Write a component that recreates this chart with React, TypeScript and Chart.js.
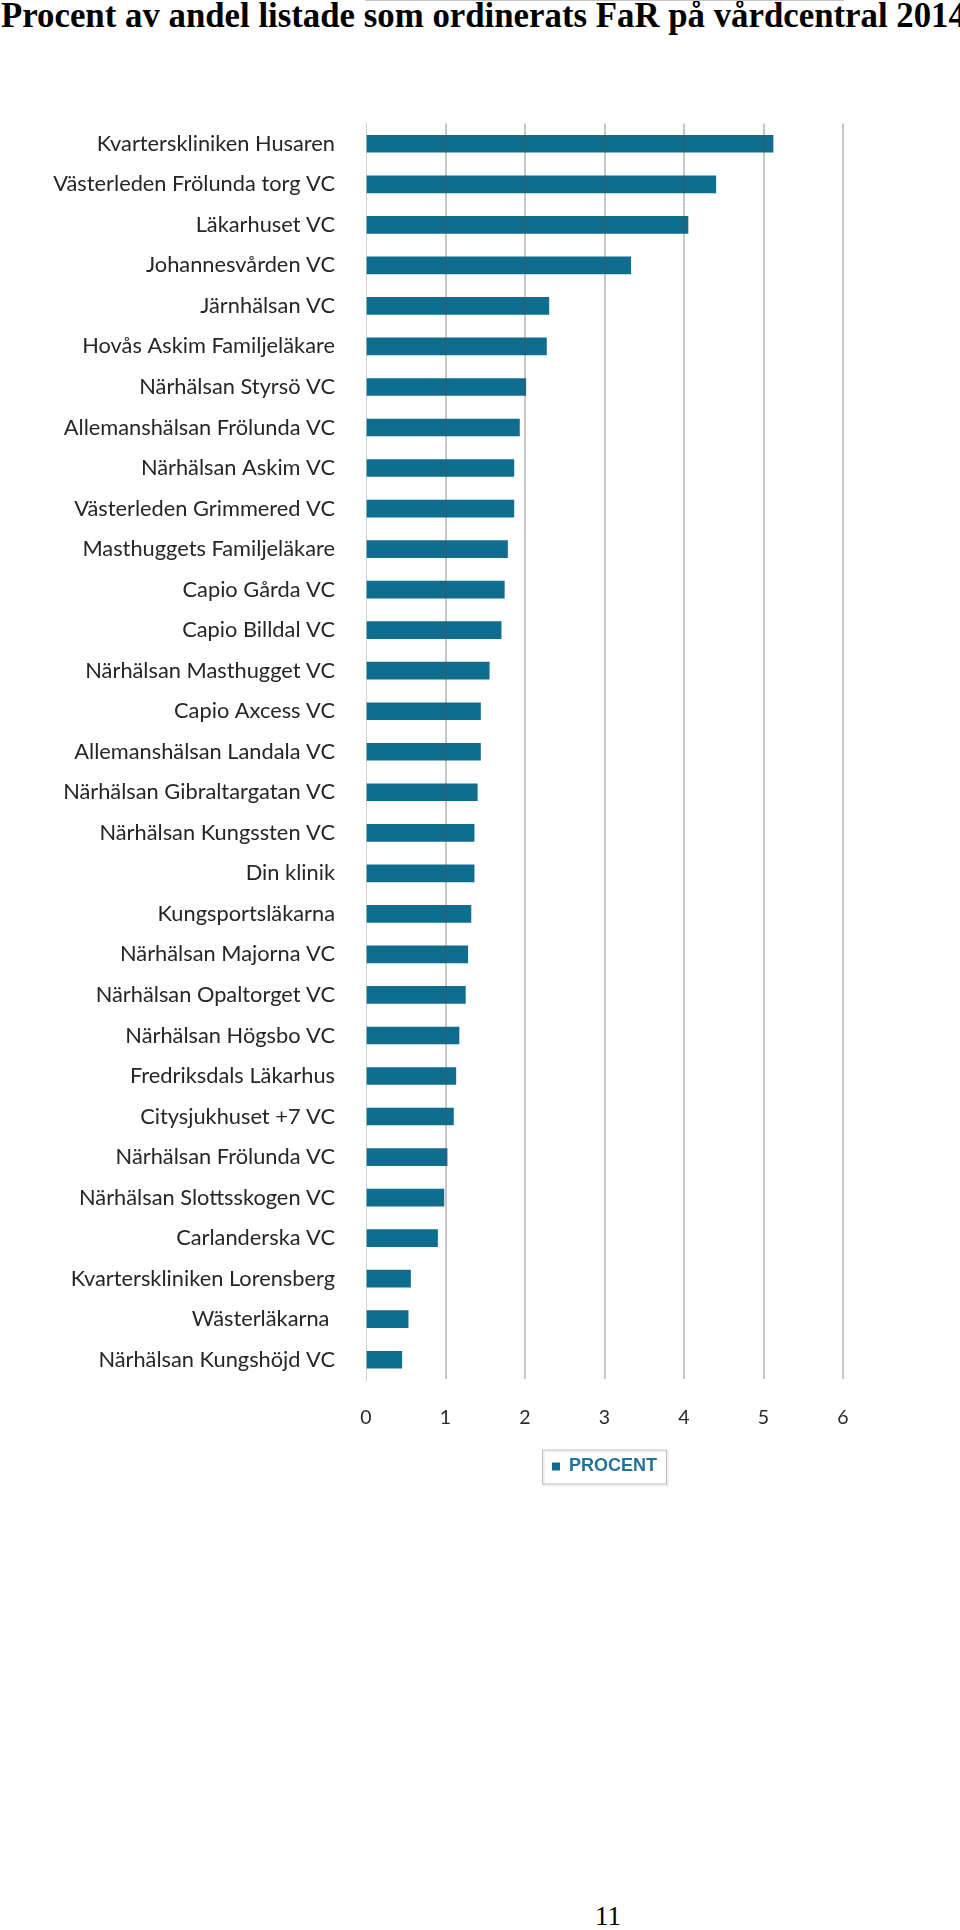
import React, { useEffect, useRef } from "react";
import { Chart, registerables } from "chart.js";

Chart.register(...registerables);

const TITLE = "Procent av andel listade som ordinerats FaR på vårdcentral 2014";
const PAGE_NUMBER = "11";
const SERIES_LABEL = "PROCENT";

const categories = [
  "Kvarterskliniken Husaren",
  "Västerleden Frölunda torg VC",
  "Läkarhuset VC",
  "Johannesvården VC",
  "Järnhälsan VC",
  "Hovås Askim Familjeläkare",
  "Närhälsan Styrsö VC",
  "Allemanshälsan Frölunda VC",
  "Närhälsan Askim VC",
  "Västerleden Grimmered VC",
  "Masthuggets Familjeläkare",
  "Capio Gårda VC",
  "Capio Billdal VC",
  "Närhälsan Masthugget VC",
  "Capio Axcess VC",
  "Allemanshälsan Landala VC",
  "Närhälsan Gibraltargatan VC",
  "Närhälsan Kungssten VC",
  "Din klinik",
  "Kungsportsläkarna",
  "Närhälsan Majorna VC",
  "Närhälsan Opaltorget VC",
  "Närhälsan Högsbo VC",
  "Fredriksdals Läkarhus",
  "Citysjukhuset +7 VC",
  "Närhälsan Frölunda VC",
  "Närhälsan Slottsskogen VC",
  "Carlanderska VC",
  "Kvarterskliniken Lorensberg",
  "Wästerläkarna ",
  "Närhälsan Kungshöjd VC",
];

const procent = [
  5.12, 4.4, 4.05, 3.33, 2.3, 2.27, 2.01, 1.93, 1.86, 1.86, 1.78, 1.74, 1.7,
  1.55, 1.44, 1.44, 1.4, 1.36, 1.36, 1.32, 1.28, 1.25, 1.17, 1.13, 1.1, 1.02,
  0.98, 0.9, 0.56, 0.53, 0.45,
];

const xMin = 0;
const xMax = 6;
const xStep = 1;

const BAR_COLOR = "#0f6e8f";
const LEGEND_TEXT_COLOR = "#1f739a";

const legendBorderPlugin = {
  id: "legendBorder",
  afterDraw(chart: any) {
    const legend = chart.legend;
    if (!legend || !legend.legendHitBoxes || !legend.legendHitBoxes.length) return;
    const hb = legend.legendHitBoxes[0];
    const ctx = chart.ctx;
    const cy = hb.top + hb.height / 2;
    const x0 = hb.left - 9.5;
    const x1 = hb.left + hb.width + 9.5;
    const y0 = cy - 16.5;
    const y1 = cy + 17.5;
    ctx.save();
    ctx.strokeStyle = "rgba(0,0,0,0.06)";
    ctx.lineWidth = 2;
    ctx.strokeRect(x0 + 1.5, y0 + 1.5, x1 - x0, y1 - y0);
    ctx.strokeStyle = "#bdbdbd";
    ctx.lineWidth = 1;
    ctx.strokeRect(x0, y0, x1 - x0, y1 - y0);
    ctx.restore();
  },
};

export default function App() {
  const canvasRef = useRef<HTMLCanvasElement | null>(null);

  useEffect(() => {
    if (!canvasRef.current) return;
    const chart = new Chart(canvasRef.current, {
      type: "bar",
      data: {
        labels: categories,
        datasets: [
          {
            label: SERIES_LABEL,
            data: procent,
            backgroundColor: BAR_COLOR,
            borderWidth: 0,
            barThickness: 17,
          },
        ],
      },
      options: {
        indexAxis: "y",
        responsive: false,
        animation: false,
        devicePixelRatio: 1,
        layout: {
          padding: { top: 123.5, left: 0, right: 117, bottom: 14.5 },
        },
        scales: {
          x: {
            type: "linear",
            min: xMin,
            max: xMax,
            ticks: {
              stepSize: xStep,
              padding: 26,
              color: "#2a2a2a",
              font: { family: "Lato", size: 19.5 },
            },
            grid: {
              display: true,
              drawTicks: false,
              z: 1,
              lineWidth: 2,
              color: (ctx: any) =>
                ctx.tick && ctx.tick.value === 0
                  ? "rgba(0,0,0,0)"
                  : "rgba(80,80,80,0.32)",
            },
            border: { display: true, color: "#c4c4c4", width: 2 },
            afterFit: (scale: any) => {
              scale.height = 67.5;
            },
          },
          y: {
            type: "category",
            offset: true,
            ticks: {
              autoSkip: false,
              padding: 31,
              color: "#262626",
              font: { family: "Lato", size: 21.8 },
            },
            grid: { display: false, drawTicks: false },
            border: { display: true, color: "#d0d0d0", width: 1 },
            afterFit: (scale: any) => {
              scale.width = 366;
            },
          },
        },
        plugins: {
          legend: {
            display: true,
            position: "bottom",
            fullSize: false,
            labels: {
              boxWidth: 8,
              boxHeight: 8,
              padding: 10,
              color: LEGEND_TEXT_COLOR,
              font: { family: "Liberation Sans", size: 18, weight: "bold" },
            },
          },
          tooltip: { enabled: false },
          title: { display: false },
        },
      },
      plugins: [legendBorderPlugin],
    });
    return () => chart.destroy();
  }, []);

  return (
    <div
      style={{
        position: "fixed",
        left: 0,
        top: 0,
        width: 960,
        height: 1930,
        overflow: "hidden",
        background: "#ffffff",
      }}
    >
      <div
        style={{
          position: "absolute",
          left: 1,
          top: -1.5,
          whiteSpace: "nowrap",
          fontFamily: "'Liberation Serif', serif",
          fontWeight: "bold",
          fontSize: 34.8,
          lineHeight: "34px",
          color: "#000",
        }}
      >
        {TITLE}
      </div>
      <canvas
        ref={canvasRef}
        width={960}
        height={1500}
        style={{ position: "absolute", left: 0, top: 0, width: 960, height: 1500, display: "block" }}
      />
      <div
        style={{
          position: "absolute",
          left: 0,
          width: 1216,
          top: 1903,
          textAlign: "center",
          fontFamily: "'Liberation Serif', serif",
          fontSize: 27,
          lineHeight: "27px",
          color: "#000",
        }}
      >
        {PAGE_NUMBER}
      </div>
    </div>
  );
}
